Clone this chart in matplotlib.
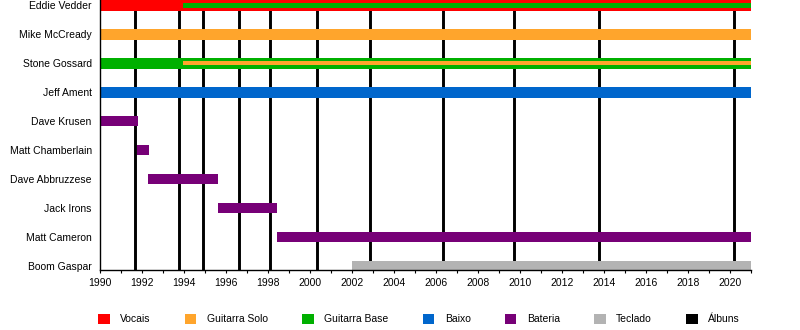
import matplotlib.pyplot as plt
from matplotlib.patches import Patch

plt.rcParams['font.family'] = ['Liberation Sans', 'DejaVu Sans']

membros = ['Eddie Vedder', 'Mike McCready', 'Stone Gossard', 'Jeff Ament',
           'Dave Krusen', 'Matt Chamberlain', 'Dave Abbruzzese', 'Jack Irons',
           'Matt Cameron', 'Boom Gaspar']

# (membro, inicio, fim, funcao)
periodos_principais = [
    ('Eddie Vedder', 1990.0, 2021.0, 'Vocais'),
    ('Mike McCready', 1990.0, 2021.0, 'Guitarra Solo'),
    ('Stone Gossard', 1990.0, 2021.0, 'Guitarra Base'),
    ('Jeff Ament', 1990.0, 2021.0, 'Baixo'),
    ('Dave Krusen', 1990.0, 1991.8, 'Bateria'),
    ('Matt Chamberlain', 1991.78, 1992.35, 'Bateria'),
    ('Dave Abbruzzese', 1992.3, 1995.62, 'Bateria'),
    ('Jack Irons', 1995.62, 1998.42, 'Bateria'),
    ('Matt Cameron', 1998.42, 2021.0, 'Bateria'),
    ('Boom Gaspar', 2002.0, 2021.0, 'Teclado'),
]

periodos_secundarios = [
    ('Eddie Vedder', 1993.95, 2021.0, 'Guitarra Base'),
    ('Stone Gossard', 1993.95, 2021.0, 'Guitarra Solo'),
]

albuns = [1991.67, 1993.77, 1994.9, 1996.62, 1998.08, 2000.35,
          2002.85, 2006.33, 2009.72, 2013.78, 2020.2]

funcoes = ['Vocais', 'Guitarra Solo', 'Guitarra Base', 'Baixo', 'Bateria', 'Teclado', 'Álbuns']
cores = {
    'Vocais': '#ff0000',
    'Guitarra Solo': '#ffa52c',
    'Guitarra Base': '#00b000',
    'Baixo': '#0066cc',
    'Bateria': '#770077',
    'Teclado': '#b3b3b3',
    'Álbuns': '#000000',
}

fig = plt.figure(figsize=(8, 3.3), dpi=100)
ax = fig.add_axes([100 / 800, 60 / 330, 651 / 800, 270 / 330])

pos = {m: i for i, m in enumerate(membros)}

for a in albuns:
    ax.axvline(a, color='black', lw=2.1, zorder=1)

for m, ini, fim, f in periodos_principais:
    ax.barh(pos[m], fim - ini, left=ini, height=0.36, color=cores[f], zorder=2)

for m, ini, fim, f in periodos_secundarios:
    ax.barh(pos[m], fim - ini, left=ini, height=0.14, color=cores[f], zorder=3)

ax.set_xlim(1990, 2021)
ax.set_ylim(9 + 4 / 29, -5.5 / 29)
ax.set_yticks(range(len(membros)))
ax.set_yticklabels(membros, fontsize=7.5)
ax.tick_params(axis='y', length=0, pad=6)

ax.set_xticks(range(1990, 2021, 2))
ax.set_xticks(range(1991, 2022, 2), minor=True)
ax.tick_params(axis='x', labelsize=7.5, length=2.5, width=0.8, direction='out', pad=3)
ax.tick_params(axis='x', which='minor', length=2.5, width=0.8)

for s in ['top', 'right']:
    ax.spines[s].set_visible(False)
for s in ['left', 'bottom']:
    ax.spines[s].set_linewidth(1.0)
    ax.spines[s].set_zorder(4)

handles = [Patch(facecolor=cores[f], edgecolor='none', label=f) for f in funcoes]
fig.legend(handles=handles, loc='center', bbox_to_anchor=(419 / 800, 1 - 319 / 330),
           ncol=len(funcoes), frameon=False, fontsize=7.5,
           handlelength=1.1, handleheight=1.1, columnspacing=3.3, handletextpad=1.0)

fig.savefig('out.png', dpi=100)
